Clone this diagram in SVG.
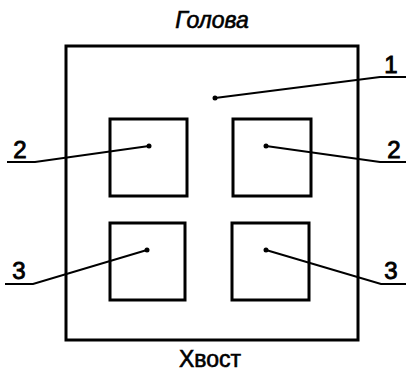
<svg xmlns="http://www.w3.org/2000/svg" width="406" height="379" viewBox="0 0 406 379">
<style>
.box{fill:none;stroke:#000;stroke-width:3}
.lead{fill:none;stroke:#000;stroke-width:2}
.dot{fill:#000}
.t{font-family:"Liberation Sans",Arial,sans-serif;font-size:23px;fill:#000;stroke:#000;stroke-width:0.6}
.n{font-family:"Liberation Sans",Arial,sans-serif;font-size:24px;fill:#000;stroke:#000;stroke-width:0.9}
</style>
<rect width="406" height="379" fill="#fff"/>
<g id="outer"><rect class="box" x="66" y="46" width="292" height="294"/></g>
<g id="sq-tl"><rect class="box" x="110" y="119" width="77" height="77"/></g>
<g id="sq-tr"><rect class="box" x="233" y="119" width="78" height="77"/></g>
<g id="sq-bl"><rect class="box" x="110" y="223" width="75" height="77"/></g>
<g id="sq-br"><rect class="box" x="232" y="223" width="77" height="77"/></g>
<g id="connectors">
<polyline class="lead" points="215,98 380,77 406,77"/>
<polyline class="lead" points="149,146 35,162 7,162"/>
<polyline class="lead" points="266,146 380,162 406,162"/>
<polyline class="lead" points="147,250 33,284 5,284"/>
<polyline class="lead" points="266,250 381,284 406,284"/>
<circle class="dot" cx="215" cy="98" r="2.5"/>
<circle class="dot" cx="149" cy="146" r="2.5"/>
<circle class="dot" cx="266" cy="146" r="2.5"/>
<circle class="dot" cx="147" cy="250" r="2.5"/>
<circle class="dot" cx="266" cy="250" r="2.5"/>
</g>
<g id="labels">
<text class="t" x="212" y="28" text-anchor="middle" font-style="italic">Голова</text>
<text class="t" x="210" y="367" text-anchor="middle" font-size="24">Хвост</text>
<text class="n" x="391" y="73" text-anchor="middle">1</text>
<text class="n" x="20" y="158" text-anchor="middle">2</text>
<text class="n" x="394" y="158" text-anchor="middle">2</text>
<text class="n" x="19" y="279" text-anchor="middle">3</text>
<text class="n" x="391" y="279" text-anchor="middle">3</text>
</g>
</svg>
